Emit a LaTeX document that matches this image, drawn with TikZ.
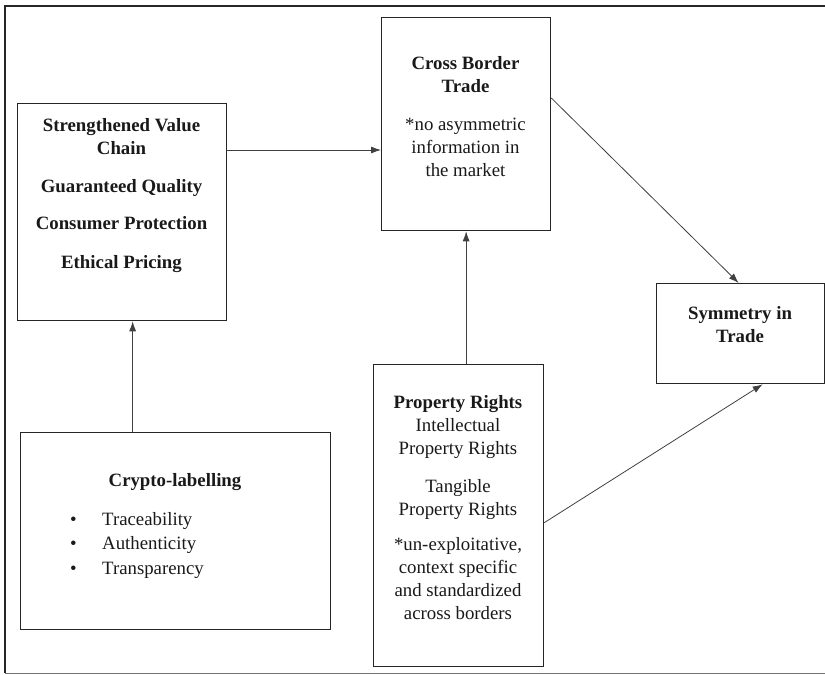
\documentclass[tikz,border=0pt]{standalone}
\usepackage{fontspec}
\setmainfont{Liberation Serif}
\usetikzlibrary{arrows.meta}
\begin{document}
\begin{tikzpicture}[x=1pt,y=-1pt,
  box/.style={draw=black!85,line width=1.3pt,inner sep=0pt,anchor=north west},
  txt/.style={align=center,inner sep=0pt,anchor=north,text=black!90,
              font=\fontsize{18.8}{23}\selectfont},
  arr/.style={draw=black!75,line width=0.8pt,-{Latex[length=10pt,width=7pt]}},
  frameline/.style={line width=1.8pt,draw=black!85}]
\useasboundingbox (0,0) rectangle (825,675);

% outer frame (open on the right)
\coordinate (ftr) at (826,6);
\coordinate (ftl) at (5,6);
\coordinate (fbl) at (5,673);
\coordinate (fbr) at (826,673);
\draw[frameline] (ftr) -- (ftl) -- (fbl);
\draw[line width=1pt,draw=black!55] (fbl) -- (fbr);

% boxes
\node[box,minimum width=209pt,minimum height=217pt] (svc) at (17,103) {};
\node[box,minimum width=169pt,minimum height=213pt] (cbt) at (381,17) {};
\node[box,minimum width=168pt,minimum height=100pt] (sym) at (656,283) {};
\node[box,minimum width=310pt,minimum height=197pt] (cry) at (20,432) {};
\node[box,minimum width=170pt,minimum height=302pt] (pr)  at (373,364) {};

% texts
\node[txt,font=\fontsize{18.8}{23}\selectfont\bfseries] (svct) at (121.5,118)
  {Strengthened Value\\Chain\\[15pt]Guaranteed Quality\\[14pt]Consumer Protection\\[16pt]Ethical Pricing};
\node[txt] (cbtt) at (465.5,56)
  {\textbf{Cross Border}\\\textbf{Trade}\\[15pt]*no asymmetric\\information in\\the market};
\node[txt,font=\fontsize{18.8}{23}\selectfont\bfseries] (symt) at (740,306)
  {Symmetry in\\Trade};
\node[txt,font=\fontsize{18.8}{23}\selectfont\bfseries] (cryt) at (175,473)
  {Crypto-labelling};
\node[txt,anchor=north west,align=left,font=\fontsize{18.8}{24.5}\selectfont] (cryl) at (70,512)
  {\makebox[32pt][l]{•}Traceability\\\makebox[32pt][l]{•}Authenticity\\\makebox[32pt][l]{•}Transparency};
\node[txt] (prt) at (458,395)
  {\textbf{Property Rights}\\Intellectual\\Property Rights\\[15pt]Tangible\\Property Rights\\[12pt]*un-exploitative,\\context specific\\and standardized\\across borders};

% connectors
\draw[arr] ([yshift=-47pt]svc.north east) -- ([yshift=-47pt]svc.north east -| cbt.west);
\draw[arr] ([xshift=-43pt]cry.north) -- ([xshift=-43pt]cry.north |- svc.south);
\draw[arr] (cbt.south |- pr.north) -- (cbt.south);
\draw[arr] ([yshift=-81pt]cbt.north east) -- ([xshift=-2pt]sym.north);
\draw[arr] ([yshift=-7pt]pr.east) -- ([xshift=22pt]sym.south);
\end{tikzpicture}
\end{document}
